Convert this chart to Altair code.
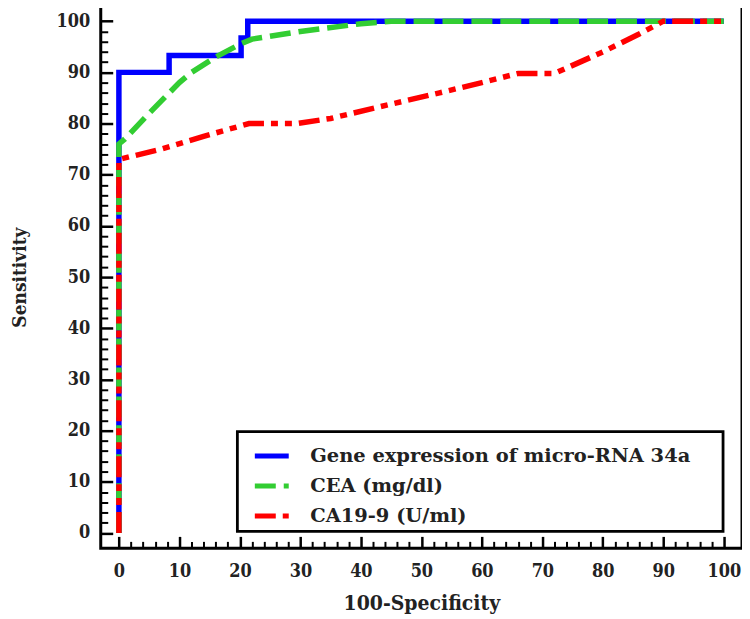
import altair as alt
import pandas as pd

# ---- data ----
series_names = ["Gene expression of micro-RNA 34a", "CEA (mg/dl)", "CA19-9 (U/ml)"]
series_colors = ["#0000ff", "#32cd32", "#ff0000"]
series_dashes = [[1, 0], [21, 8], [21, 7, 7, 7, 7, 7]]

gene_x = [0, 0, 8.3, 8.3, 20.2, 20.2, 21.3, 21.3, 100]
gene_y = [0, 90, 90, 93.3, 93.3, 96.7, 96.7, 100, 100]

cea_x = [0, 0, 1, 5, 10, 12, 16, 20, 22, 30, 40, 45, 100]
cea_y = [0, 76, 77, 82, 88, 90, 93, 95.5, 96.5, 98, 99.5, 100, 100]

ca_x = [0, 0, 7, 14, 21.5, 29.5, 35, 45, 53, 60, 66, 72, 80, 86, 90, 100]
ca_y = [0, 73, 75, 77.5, 80, 80, 81, 83.8, 86, 88, 89.8, 89.8, 94, 97.5, 100, 100]

major_ticks = list(range(0, 101, 10))
minor_ticks = [v for v in range(0, 101, 2) if v % 10 != 0]

rows = []
for name, xs, ys in zip(series_names, [gene_x, cea_x, ca_x], [gene_y, cea_y, ca_y]):
    for i, (xv, yv) in enumerate(zip(xs, ys)):
        rows.append({"series": name, "x": xv, "y": yv, "order": i})
df = pd.DataFrame(rows)

FONT = "DejaVu Serif Condensed"
LEGEND_FONT = "DejaVu Serif"

xscale = alt.Scale(domain=[-3, 103], nice=False, zero=False)
yscale = alt.Scale(domain=[-3, 103], nice=False, zero=False)

x_major = alt.Axis(
    orient="bottom", values=major_ticks, tickSize=12, tickWidth=2.5, tickColor="black",
    offset=-12, domain=False, grid=False, labelFont=FONT, labelFontSize=18,
    labelFontWeight="bold", labelColor="#222222", labelPadding=14, labelFlush=False,
    labelOverlap=False, title="100-Specificity", titleFont=FONT, titleFontSize=21,
    titleFontWeight="bold", titleColor="#222222", titleY=67, titleBaseline="middle",
)
y_major = alt.Axis(
    orient="left", values=major_ticks, tickSize=12, tickWidth=2.5, tickColor="black",
    offset=-12, domain=False, grid=False, labelFont=FONT, labelFontSize=18,
    labelFontWeight="bold", labelColor="#222222", labelPadding=11, labelFlush=False,
    labelOverlap=False, title="Sensitivity", titleFont=FONT, titleFontSize=19,
    titleFontWeight="bold", titleColor="#222222", titleX=-93, titleY=272,
    titleAngle=-90, titleBaseline="middle", titleAlign="center",
)
x_minor = alt.Axis(
    orient="bottom", values=minor_ticks, tickSize=7, tickWidth=2, tickColor="black",
    offset=-7, domain=False, grid=False, labels=False, title=None,
)
y_minor = alt.Axis(
    orient="left", values=minor_ticks, tickSize=7, tickWidth=2, tickColor="black",
    offset=-7, domain=False, grid=False, labels=False, title=None,
)

SPACER = "\u00a0"
color_enc = alt.Color(
    "series:N", sort=series_names,
    scale=alt.Scale(domain=series_names, range=series_colors),
    legend=alt.Legend(title=SPACER),
)
dash_enc = alt.StrokeDash(
    "series:N", sort=series_names,
    scale=alt.Scale(domain=series_names, range=series_dashes),
    legend=alt.Legend(title=SPACER),
)

lines = alt.Chart(df).mark_line(strokeWidth=5.5, strokeCap="butt", strokeJoin="miter").encode(
    x=alt.X("x:Q", scale=xscale, axis=x_major),
    y=alt.Y("y:Q", scale=yscale, axis=y_major),
    color=color_enc,
    strokeDash=dash_enc,
    order=alt.Order("order:Q"),
)

minor = alt.Chart(df).mark_point(opacity=0).encode(
    x=alt.X("x:Q", scale=xscale, axis=x_minor),
    y=alt.Y("y:Q", scale=yscale, axis=y_minor),
)

chart = alt.layer(lines, minor).resolve_axis(
    x="independent", y="independent"
).properties(
    width=643, height=544,
    autosize=alt.AutoSizeParams(type="none"),
    padding={"left": 93, "top": -3, "right": 0, "bottom": 70},
).configure_view(
    stroke="black", strokeWidth=3,
).configure_legend(
    orient="none", legendX=137, legendY=427,
    padding=5, strokeColor="black", strokeWidth=2.8, fillColor="white",
    symbolType="stroke", symbolSize=1156, symbolStrokeWidth=5, symbolOffset=10,
    labelFont=LEGEND_FONT, labelFontSize=19.5, labelFontWeight="bold", labelColor="#222222",
    labelOffset=19, rowPadding=0, labelLimit=600,
    titleOrient="right", titleFontSize=4, titlePadding=28,
)

chart.save("out.html", embed_options={"renderer": "svg", "actions": False})
